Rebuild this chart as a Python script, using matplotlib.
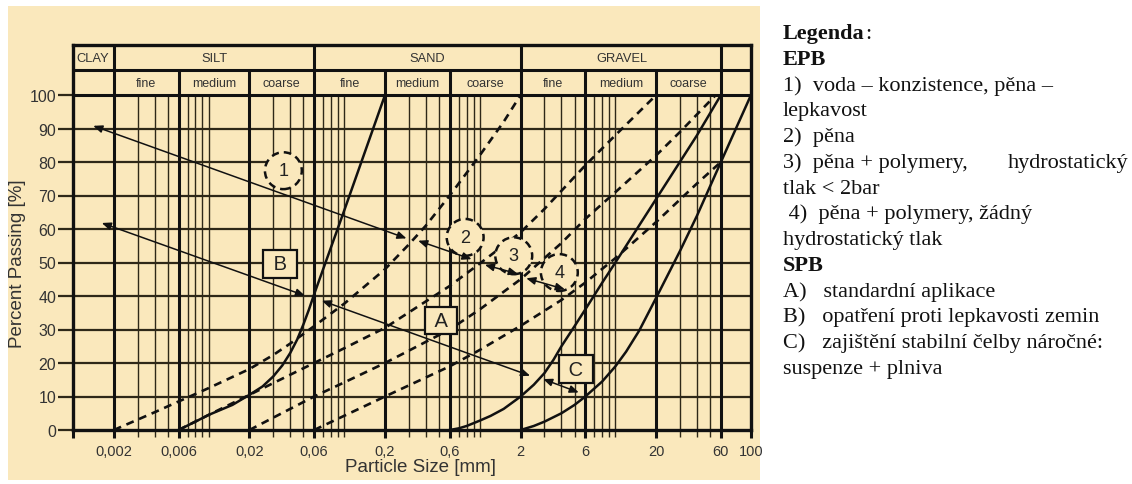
import numpy as np
import matplotlib
matplotlib.use("Agg")
import matplotlib.pyplot as plt
from matplotlib.patches import Rectangle
from matplotlib.ticker import FixedLocator, FixedFormatter, NullFormatter

W, H = 1132, 485
BG = "#FAE8BC"
INK = "#111111"
GRID = "#2e2818"

# grain size axis (mm)
major_d = [0.001, 0.002, 0.006, 0.02, 0.06, 0.2, 0.6, 2, 6, 20, 60, 100]
major_lbl = ["", "0,002", "0,006", "0,02", "0,06", "0,2", "0,6", "2", "6", "20", "60", "100"]
minor_d = [0.003, 0.004, 0.005, 0.007, 0.008, 0.009, 0.01,
           0.03, 0.04, 0.05, 0.07, 0.08, 0.09, 0.1,
           0.3, 0.4, 0.5, 0.7, 0.8, 0.9, 1,
           3, 4, 5, 7, 8, 9, 10,
           30, 40, 50]
pct_ticks = [0, 10, 20, 30, 40, 50, 60, 70, 80, 90, 100]

# soil classes in the header
groups = ["CLAY", "SILT", "SAND", "GRAVEL"]
group_x = [0.0014, 0.011, 0.41, 11.2]
group_edges = [0.002, 0.06, 2, 60]
sub_edges = [0.002, 0.006, 0.02, 0.06, 0.2, 0.6, 2, 6, 20, 60]
sub_lbl = ["fine", "medium", "coarse"] * 3

# boundary curves (solid)
s1_d = [0.006, 0.008, 0.01, 0.015, 0.02, 0.025, 0.03, 0.035, 0.04, 0.045,
        0.05, 0.055, 0.06, 0.1, 0.2]
s1_p = [0, 2.5, 4.5, 7.5, 10.5, 13, 16, 19.3, 23, 27, 31.5, 36, 40.5, 65.5, 100]
s2_d = [0.6, 0.7, 0.8, 1, 1.2, 1.5, 2, 2.5, 3, 3.5, 4, 5, 6, 8, 10, 20, 40, 60]
s2_p = [0, 0.5, 1.2, 2.8, 4.2, 6.3, 10, 13.5, 17, 21, 25, 31, 36, 44, 50, 69, 88, 100]
s3_d = [2, 2.5, 3, 4, 5, 6, 8, 10, 12, 15, 20, 30, 40, 60, 100]
s3_p = [0, 1.2, 2.5, 5, 7.5, 10, 14.5, 19, 23.4, 29.7, 39.5, 53.5, 64, 80, 100]

# boundary curves (dashed)
da_d = [0.002, 0.003, 0.004, 0.006, 0.01, 0.02, 0.03, 0.04, 0.06, 0.1, 0.2,
        0.3, 0.4, 0.6, 1, 1.5, 2]
da_p = [0, 3.1, 5.3, 8.5, 12.5, 18.2, 22.4, 25.8, 31, 37.7, 48, 55.4, 61, 70,
        82, 92, 100]
db_d = [0.006, 0.01, 0.02, 0.06, 0.1, 0.2, 0.6, 1, 2, 3, 6, 10, 20]
db_p = [0, 4.5, 10.5, 20, 24.4, 30.5, 43, 49.7, 59, 66, 79, 88, 100]
dc_d = [0.02, 0.06, 0.1, 0.2, 0.6, 1, 2, 4, 6, 10, 20, 30, 55]
dc_p = [0, 10, 14.2, 20, 30, 36, 45, 55.8, 63, 71, 82, 89, 100]
dd_d = [0.06, 0.2, 0.6, 1, 2, 4, 6, 10, 20, 40, 60]
dd_p = [0, 10, 19, 23.9, 31.1, 38.8, 44, 51.3, 62.1, 73.6, 80]

# range arrows (start, end)
arrows = [((0.00141, 90.8), (0.288, 57.2)),
          ((0.351, 56.5), (0.87, 51.0)),
          ((1.09, 49.3), (1.91, 46.6)),
          ((2.2, 45.3), (4.24, 42.0)),
          ((0.00163, 61.8), (0.0514, 40.1)),
          ((0.0683, 38.6), (2.35, 16.2)),
          ((2.93, 15.2), (5.37, 11.2))]

circle_lbl = ["1", "2", "3", "4"]
circle_xy = [(0.0356, 77.4), (0.78, 57.5), (1.78, 52.0), (3.86, 47.0)]
box_lbl = ["A", "B", "C"]
box_xy = [(0.517, 32.7), (0.0336, 49.6), (5.12, 18.2)]

legend_lines = [
    ("Legenda", "bold"),
    ("EPB", "bold"),
    ("1)  voda \u2013 konzistence, pěna \u2013", "normal"),
    ("lepkavost", "normal"),
    ("2)  pěna", "normal"),
    ("3)  pěna + polymery,", "normal"),
    ("tlak < 2bar", "normal"),
    (" 4)  pěna + polymery, žádný", "normal"),
    ("hydrostatický tlak", "normal"),
    ("SPB", "bold"),
    ("A)   standardní aplikace", "normal"),
    ("B)   opatření proti lepkavosti zemin", "normal"),
    ("C)   zajištění stabilní čelby náročné:", "normal"),
    ("suspenze + plniva", "normal"),
]

sans = ["Liberation Sans", "DejaVu Sans"]
serif = ["Liberation Serif", "DejaVu Serif"]

fig = plt.figure(figsize=(W / 100, H / 100), dpi=100)
fig.patch.set_facecolor("white")


def fx(px):
    return px / W


def fy(py):
    return 1 - py / H


# cream panel behind the chart
fig.patches.append(Rectangle((fx(8), fy(481)), fx(752), 474 / H,
                             transform=fig.transFigure, facecolor=BG,
                             edgecolor="none", zorder=-10))

ax = fig.add_axes([fx(73), fy(431), fx(678), 385.25 / H])
ax.set_zorder(1)
ax.set_facecolor(BG)
ax.set_xscale("log")
ax.set_xlim(0.001, 100)
ax.set_ylim(0, 115)

for s in ax.spines.values():
    s.set_linewidth(2.4)
    s.set_color(INK)

# grid
ax.vlines(minor_d, 0, 100, colors=GRID, lw=1.0, zorder=1)
ax.hlines(pct_ticks[1:-1], 0.001, 100, colors=GRID, lw=1.6, zorder=1)
ax.hlines([100, 107.5], 0.001, 100, colors=INK, lw=2.2, zorder=2)
ax.vlines([0.006, 0.02, 0.2, 0.6, 6, 20], 0, 107.5, colors=INK, lw=2.2, zorder=2)
ax.vlines(group_edges, 0, 115, colors=INK, lw=2.2, zorder=2)

# header labels
for name, x in zip(groups, group_x):
    ax.text(x, 111.1, name, ha="center", va="center", fontsize=9.3,
            color="#333333", family=sans)
for i, name in enumerate(sub_lbl):
    x = np.sqrt(sub_edges[i] * sub_edges[i + 1])
    ax.text(x, 103.6, name, ha="center", va="center", fontsize=9,
            color="#333333", family=sans)

# ticks
ax.xaxis.set_major_locator(FixedLocator(major_d))
ax.xaxis.set_major_formatter(FixedFormatter(major_lbl))
ax.xaxis.set_minor_locator(FixedLocator(minor_d))
ax.xaxis.set_minor_formatter(NullFormatter())
ax.set_yticks(pct_ticks)
ax.set_yticklabels([str(v) for v in pct_ticks])
ax.tick_params(axis="x", which="major", direction="out", length=6, width=2.2,
               color=INK, pad=4, labelsize=10.5, labelcolor="#333333")
ax.tick_params(axis="x", which="minor", direction="out", length=5, width=1.0,
               color=GRID)
ax.tick_params(axis="y", direction="out", length=11, width=1.6, color=GRID,
               pad=1, labelsize=11.5, labelcolor="#333333")
for lab in ax.get_xticklabels() + ax.get_yticklabels():
    lab.set_family(sans)

# curves
for d, p in [(s1_d, s1_p), (s2_d, s2_p), (s3_d, s3_p)]:
    ax.plot(d, p, color=INK, lw=1.8, zorder=3, solid_joinstyle="round")
for d, p in [(da_d, da_p), (db_d, db_p), (dc_d, dc_p), (dd_d, dd_p)]:
    ax.plot(d, p, color=INK, lw=1.9, dashes=(3.0, 2.2), zorder=3)

# arrows
for a, b in arrows:
    ax.annotate("", xy=b, xytext=a,
                arrowprops=dict(arrowstyle="<|-|>,head_length=0.6,head_width=0.25",
                                color=INK, lw=1.1, mutation_scale=9,
                                shrinkA=0, shrinkB=0), zorder=5)

# labels in circles and boxes
for t, (x, y) in zip(circle_lbl, circle_xy):
    ax.text(x, y, t, ha="center", va="center", fontsize=13, color="#222222",
            family=sans, zorder=4,
            bbox=dict(boxstyle="circle,pad=0.55", facecolor=BG, edgecolor=INK,
                      lw=1.8, linestyle=(0, (3.0, 2.0))))
for t, (x, y) in zip(box_lbl, box_xy):
    ax.text(x, y, " " + t + " ", ha="center", va="center", fontsize=14.5,
            color="#222222", family=sans, zorder=4,
            bbox=dict(boxstyle="square,pad=0.22", facecolor=BG, edgecolor=INK,
                      lw=1.6))

fig.text(fx(420), fy(468), "Particle Size [mm]", ha="center", va="center",
         fontsize=13.5, color="#333333", family=sans)
fig.text(fx(18), fy(264), "Percent Passing [%]", ha="center", va="center",
         rotation=90, fontsize=13.5, color="#333333", family=sans)

# legend text
y0, step = 39, 25.75
for i, (t, w) in enumerate(legend_lines):
    fig.text(fx(783), fy(y0 + i * step), t, ha="left", va="baseline",
             fontsize=16, fontweight=w, color=INK, family=serif)
fig.text(fx(865), fy(y0), ":", ha="left", va="baseline", fontsize=16,
         color=INK, family=serif)
fig.text(fx(1128), fy(y0 + 5 * step), "hydrostatický", ha="right",
         va="baseline", fontsize=16, color=INK, family=serif)

fig.savefig("out.png", dpi=100, facecolor="white")
